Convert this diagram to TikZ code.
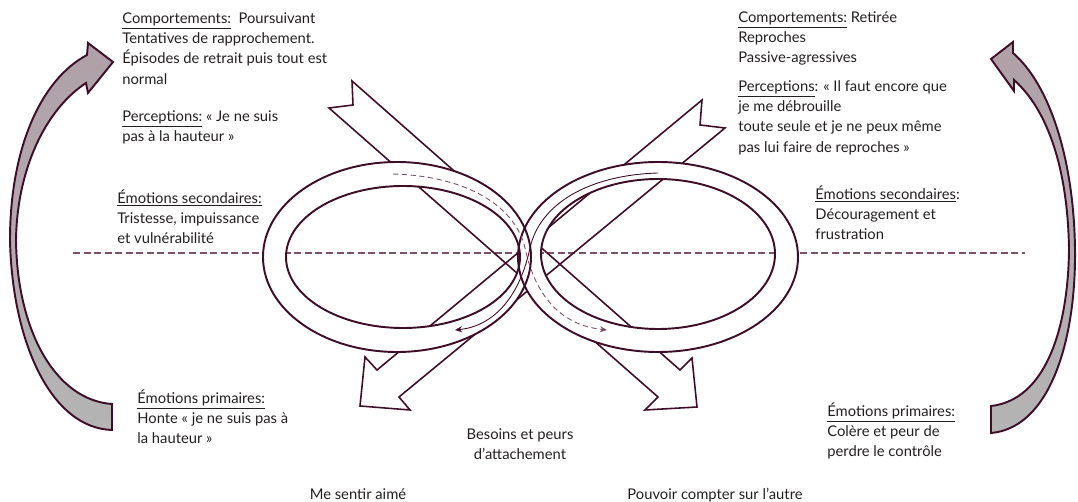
\documentclass[tikz,border=0pt]{standalone}
\usepackage{fontspec}
\setmainfont{Lato}
\usetikzlibrary{arrows.meta}
\definecolor{wine}{RGB}{62,14,40}
\definecolor{dashwine}{RGB}{125,80,105}
\definecolor{bandtop}{RGB}{176,160,168}
\definecolor{bandbot}{RGB}{180,180,180}
\definecolor{txt}{RGB}{35,31,32}

\begin{document}
\begin{tikzpicture}[x=0.02cm, y=-0.02cm,
    lbl/.style={anchor=north west, inner sep=0pt, align=left, text=txt,
      font=\fontsize{8.4}{11.6}\selectfont, execute at begin node=\rule{0pt}{8pt}},
    mid/.style={lbl, anchor=north, align=center},
    ring/.style={draw=wine, line width=1.1pt},
    blockarrow/.style={draw=wine, line width=0.9pt, line join=miter},
    loopline/.style={wine, line width=0.5pt, -{Stealth[length=4pt,width=3.5pt]}}]
  \useasboundingbox (0,0) rectangle (1078,502);

  % axis
  \draw[dashwine, line width=0.7pt, dash pattern=on 4pt off 2pt] (73,253) -- (1025,253);

  % crossing block arrows
  \draw[blockarrow] (352,81) -- (680,370) -- (692,358) -- (697,407) -- (645,410)
    -- (658,397) -- (329,108) -- (353,105) -- cycle;
  \draw[blockarrow] (702,100) -- (377,370) -- (365,357) -- (360,406) -- (410,410)
    -- (399,397) -- (725,128) -- (700,125) -- cycle;

  % the two rings
  \fill[white, even odd rule] (397,257) ellipse [x radius=134, y radius=95]
    (403,257) ellipse [x radius=117, y radius=71];
  \fill[white, even odd rule] (658,257) ellipse [x radius=140, y radius=95]
    (658,254) ellipse [x radius=117, y radius=75];
  \draw[ring] (397,257) ellipse [x radius=134, y radius=95];
  \draw[ring] (403,257) ellipse [x radius=117, y radius=71];
  \draw[ring] (658,257) ellipse [x radius=140, y radius=95];
  \draw[ring] (658,254) ellipse [x radius=117, y radius=75];

  % flow inside the rings
  \draw[loopline, dashwine, densely dashed] (393,174) .. controls (465,176) and (515,205) .. (525,248)
    .. controls (535,295) and (560,325) .. (607,330);
  \draw[loopline] (658,173) .. controls (590,175) and (540,203) .. (530,248)
    .. controls (520,295) and (495,326) .. (455,330);

  % outer curved arrows
  \draw[wine, line width=1.1pt, line join=miter, top color=bandtop, bottom color=bandbot]
    (112,404) -- (112,430) .. controls (50,428) and (12,340) .. (10,240)
    .. controls (10,150) and (40,80) .. (87,55) -- (88,43) -- (113,62) -- (88,93) -- (86,83)
    .. controls (45,110) and (17,170) .. (16,240) .. controls (17,330) and (55,400) .. (112,404) -- cycle;
  \draw[wine, line width=1.1pt, line join=miter, top color=bandtop, bottom color=bandbot]
    (991,406) -- (991,433) .. controls (1050,428) and (1076,340) .. (1075,250)
    .. controls (1074,160) and (1050,85) .. (1013,53) -- (1013,42) -- (991,59) -- (1014,91) -- (1014,80)
    .. controls (1048,110) and (1068,170) .. (1069,250) .. controls (1068,330) and (1045,400) .. (991,406) -- cycle;

  % left partner
  \node[lbl] (compL) at (122,12) {\underline{Comportements:}\ \ Poursuivant\\Tentatives de rapprochement.\\
    Épisodes de retrait puis tout est\\normal};
  \node[lbl] (percL) at (122,110) {\underline{Perceptions:} « Je ne suis\\pas à la hauteur »};
  \node[lbl] (emoSecL) at (117,189) {\underline{Émotions secondaires:}\\Tristesse, impuissance\\et vulnérabilité};
  \node[lbl] (emoPrimL) at (137,389) {\underline{Émotions primaires:}\\Honte « je ne suis pas à\\la hauteur »};

  % right partner
  \node[lbl] (compR) at (738,11) {\underline{Comportements:} Retirée\\Reproches\\Passive-agressives};
  \node[lbl] (percR) at (738,80) {\underline{Perceptions}: « Il faut encore que\\je me débrouille\\
    toute seule et je ne peux même\\pas lui faire de reproches »};
  \node[lbl] (emoSecR) at (815,185) {\underline{Émotions secondaires}:\\Découragement et\\frustration};
  \node[lbl] (emoPrimR) at (827,402) {\underline{Émotions primaires:}\\Colère et peur de\\perdre le contrôle};

  % needs
  \node[mid] (needs) at (520,428) {Besoins et peurs\\d’attachement};
  \node[mid] (needL) at (358,485) {Me sentir aimé};
  \node[mid] (needR) at (715,485) {Pouvoir compter sur l’autre};
\end{tikzpicture}
\end{document}
